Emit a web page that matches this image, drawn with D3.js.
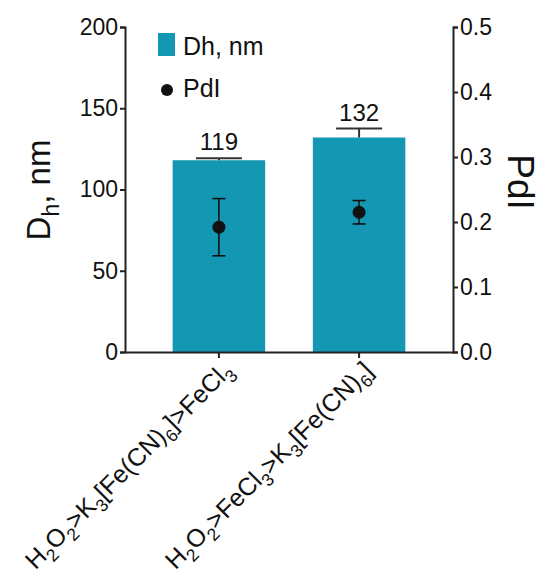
<!DOCTYPE html>
<html>
<head lang="en">
    <meta charset="UTF-8">
    <script src="https://cdn.jsdelivr.net/npm/d3@7"></script>
    <style>
        body { margin: 0; background: #fff; }
        text { font-family: "Liberation Sans", Arial, sans-serif; fill: #111; }
    </style>
</head>
<body>
<svg width="546" height="580"></svg>
<script>
    // data
    var categories = ['H2O2>K3[Fe(CN)6]>FeCl3', 'H2O2>FeCl3>K3[Fe(CN)6]'];
    var dhMean = [118, 132];
    var dhSd = [1.2, 5.5];
    var dhLabels = ['119', '132'];
    var pdiMean = [0.192, 0.215];
    var pdiSd = [0.044, 0.018];
    var dhTicks = [0, 50, 100, 150, 200];
    var pdiTicks = [0, 0.1, 0.2, 0.3, 0.4, 0.5];

    var colors = {
        BAR: '#1497b2',
        INK: '#111111',
        AXIS: '#222222'
    };

    var svg = d3.select('svg');
    var plotLeft = 125, plotRight = 453, plotTop = 27, plotBottom = 352;

    var x = d3.scaleBand().domain(categories).range([plotLeft, plotRight])
        .paddingInner(0.34).paddingOuter(0.34);
    var yDh = d3.scaleLinear().domain([0, 200]).range([plotBottom, plotTop]);
    var yPdi = d3.scaleLinear().domain([0, 0.5]).range([plotBottom, plotTop]);

    // writes text with digits (or flagged parts) as subscripts
    function richText(textSel, parts, size, ratio) {
        var sub = size * (ratio || 0.65), shift = size * 0.28;
        var down = false;
        parts.forEach(function (p) {
            var t = textSel.append('tspan').text(p[0]);
            if (p[1] && !down) {
                t.attr('font-size', sub).attr('dy', shift);
                down = true;
            } else if (!p[1] && down) {
                t.attr('dy', -shift);
                down = false;
            }
        });
    }
    function chemParts(str) {
        return str.split(/(\d+)/).filter(function (s) { return s.length; })
            .map(function (s) { return [s, /^\d+$/.test(s)]; });
    }

    // bars
    svg.selectAll('.bar')
        .data(categories)
        .enter()
        .append('rect')
        .attr('x', function (d) { return x(d); })
        .attr('y', function (d, i) { return yDh(dhMean[i]); })
        .attr('width', x.bandwidth())
        .attr('height', function (d, i) { return yDh(0) - yDh(dhMean[i]); })
        .attr('fill', colors.BAR);

    // bar error bars (upper only)
    var barErr = svg.selectAll('.barerr').data(categories).enter().append('g')
        .attr('stroke', '#333').attr('stroke-width', 2);
    barErr.append('line')
        .attr('x1', function (d) { return x(d) + x.bandwidth() / 2; })
        .attr('x2', function (d) { return x(d) + x.bandwidth() / 2; })
        .attr('y1', function (d, i) { return yDh(dhMean[i]); })
        .attr('y2', function (d, i) { return yDh(dhMean[i] + dhSd[i]); });
    barErr.append('line')
        .attr('x1', function (d) { return x(d) + x.bandwidth() / 2 - 23; })
        .attr('x2', function (d) { return x(d) + x.bandwidth() / 2 + 23; })
        .attr('y1', function (d, i) { return yDh(dhMean[i] + dhSd[i]); })
        .attr('y2', function (d, i) { return yDh(dhMean[i] + dhSd[i]); });

    svg.selectAll('.barlabel')
        .data(categories)
        .enter()
        .append('text')
        .attr('x', function (d) { return x(d) + x.bandwidth() / 2; })
        .attr('y', function (d, i) { return yDh(dhMean[i] + dhSd[i]) - 8; })
        .attr('text-anchor', 'middle')
        .attr('font-size', 24)
        .text(function (d, i) { return dhLabels[i]; });

    // PdI points with error bars
    var pts = svg.selectAll('.pt').data(categories).enter().append('g')
        .attr('stroke', colors.INK).attr('stroke-width', 1.6);
    pts.append('line')
        .attr('x1', function (d) { return x(d) + x.bandwidth() / 2; })
        .attr('x2', function (d) { return x(d) + x.bandwidth() / 2; })
        .attr('y1', function (d, i) { return yPdi(pdiMean[i] - pdiSd[i]); })
        .attr('y2', function (d, i) { return yPdi(pdiMean[i] + pdiSd[i]); });
    [-1, 1].forEach(function (s) {
        pts.append('line')
            .attr('x1', function (d) { return x(d) + x.bandwidth() / 2 - 6.5; })
            .attr('x2', function (d) { return x(d) + x.bandwidth() / 2 + 6.5; })
            .attr('y1', function (d, i) { return yPdi(pdiMean[i] + s * pdiSd[i]); })
            .attr('y2', function (d, i) { return yPdi(pdiMean[i] + s * pdiSd[i]); });
    });
    pts.append('circle')
        .attr('cx', function (d) { return x(d) + x.bandwidth() / 2; })
        .attr('cy', function (d, i) { return yPdi(pdiMean[i]); })
        .attr('r', 6.5)
        .attr('stroke', 'none')
        .attr('fill', colors.INK);

    // axes
    function styleAxis(g) {
        g.selectAll('path, line').attr('stroke', colors.AXIS).attr('stroke-width', 2);
        g.selectAll('text').attr('font-size', 23).attr('fill', colors.INK)
            .style('font-family', '"Liberation Sans", Arial, sans-serif');
    }
    svg.append('g')
        .attr('transform', 'translate(' + plotLeft + ',0)')
        .call(d3.axisLeft(yDh).tickValues(dhTicks).tickSize(5).tickSizeOuter(5).tickPadding(2))
        .call(styleAxis);
    svg.append('g')
        .attr('transform', 'translate(' + plotRight + ',0)')
        .call(d3.axisRight(yPdi).tickValues(pdiTicks).tickFormat(d3.format('.1f'))
            .tickSize(5).tickSizeOuter(5).tickPadding(2))
        .call(styleAxis);
    var xAxis = svg.append('g')
        .attr('transform', 'translate(0,' + plotBottom + ')')
        .call(d3.axisBottom(x).tickSize(6).tickSizeOuter(0))
        .call(styleAxis);
    xAxis.selectAll('.tick text').each(function (d) {
        var t = d3.select(this);
        t.text(null)
            .attr('text-anchor', 'end')
            .attr('font-size', 25)
            .attr('y', 0).attr('dy', 0)
            .attr('transform', 'translate(15,20) rotate(-45)');
        richText(t, chemParts(d), 25, 0.7);
    });

    // axis titles
    var ttl = svg.append('text')
        .attr('transform', 'translate(50,190) rotate(-90)')
        .attr('text-anchor', 'middle')
        .attr('font-size', 33);
    richText(ttl, [['D', false], ['h', true], [', nm', false]], 33, 0.7);
    svg.append('text')
        .attr('transform', 'translate(508,182) rotate(90)')
        .attr('text-anchor', 'middle')
        .attr('font-size', 37)
        .text('PdI');

    // legend
    svg.append('rect')
        .attr('x', 158).attr('y', 33).attr('width', 17).attr('height', 23)
        .attr('fill', colors.BAR);
    svg.append('text').attr('x', 183).attr('y', 55).attr('font-size', 25).text('Dh, nm');
    svg.append('circle').attr('cx', 167).attr('cy', 90).attr('r', 6).attr('fill', colors.INK);
    svg.append('text').attr('x', 183).attr('y', 97).attr('font-size', 25).text('PdI');
</script>
</body>
</html>
